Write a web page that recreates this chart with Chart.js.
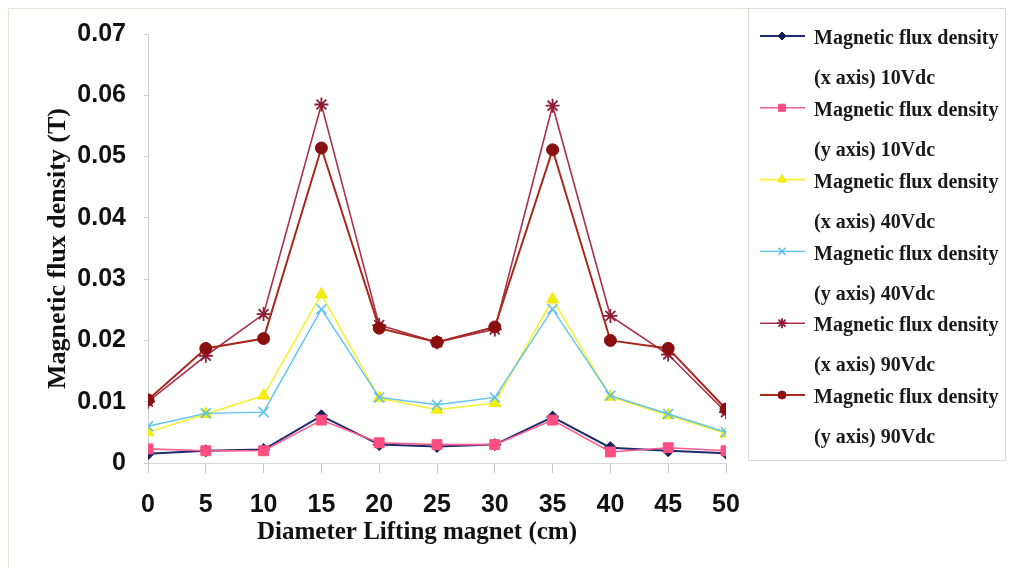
<!DOCTYPE html>
<html>
<head>
<meta charset="utf-8">
<script src="https://cdn.jsdelivr.net/npm/chart.js@4/dist/chart.umd.min.js"></script>
<style>
  html, body { margin: 0; padding: 0; background: #ffffff; }
  #wrap { width: 1009px; height: 574px; position: relative; }
</style>
</head>
<body>
<div id="wrap"><canvas id="c" width="1009" height="574"></canvas></div>
<script>
// ---- data ----
const diameters = [0, 5, 10, 15, 20, 25, 30, 35, 40, 45, 50];
const x10Vdc = [0.0015, 0.0020, 0.0022, 0.0077, 0.0030, 0.0027, 0.0030, 0.0075, 0.0025, 0.0020, 0.0016];
const y10Vdc = [0.0023, 0.0020, 0.0020, 0.0070, 0.0033, 0.0030, 0.0030, 0.0070, 0.0018, 0.0025, 0.0020];
const x40Vdc = [0.0050, 0.0080, 0.0110, 0.0275, 0.0106, 0.0087, 0.0098, 0.0267, 0.0108, 0.0078, 0.0048];
const y40Vdc = [0.0060, 0.0081, 0.0083, 0.0251, 0.0107, 0.0095, 0.0107, 0.0251, 0.0110, 0.0080, 0.0050];
const x90Vdc = [0.0100, 0.0175, 0.0243, 0.0585, 0.0225, 0.0197, 0.0218, 0.0583, 0.0240, 0.0177, 0.0083];
const y90Vdc = [0.0103, 0.0187, 0.0203, 0.0514, 0.0220, 0.0197, 0.0222, 0.0511, 0.0200, 0.0187, 0.0088];
const yTickValues = [0, 0.01, 0.02, 0.03, 0.04, 0.05, 0.06, 0.07];
const yTickLabels = ['0', '0.01', '0.02', '0.03', '0.04', '0.05', '0.06', '0.07'];
const legendLine1 = ['Magnetic flux density', 'Magnetic flux density', 'Magnetic flux density',
                     'Magnetic flux density', 'Magnetic flux density', 'Magnetic flux density'];
const legendLine2 = ['(x axis) 10Vdc', '(y axis) 10Vdc', '(x axis) 40Vdc',
                     '(y axis) 40Vdc', '(x axis) 90Vdc', '(y axis) 90Vdc'];
const xTitle = 'Diameter Lifting magnet (cm)';
const yTitle = 'Magnetic flux density (T)';

// ---- styles ----
const seriesValues = [x10Vdc, y10Vdc, x40Vdc, y40Vdc, x90Vdc, y90Vdc];
const styles = [
  { line: '#1c2a6e', fill: '#14205e', point: 'rectRot', r: 6, lw: 2, pbw: 1 },
  { line: '#ff5c8d', fill: '#ff4f82', point: 'rect', r: 7, lw: 1.6, pbw: 1 },
  { line: '#f6f032', fill: '#f2ec10', point: 'triangle', r: 7, lw: 1.6, pbw: 1 },
  { line: '#5ec2ee', fill: '#5ec2ee', point: 'crossRot', r: 7, lw: 1.4, pbw: 1.6 },
  { line: '#a8324f', fill: '#8e1c38', point: 'star', r: 7, lw: 1.6, pbw: 1.8 },
  { line: '#a8281e', fill: '#8a1010', point: 'circle', r: 6, lw: 2, pbw: 1 }
];

const datasets = seriesValues.map((vals, i) => ({
  label: legendLine1[i] + ' ' + legendLine2[i],
  data: diameters.map((d, k) => ({ x: d, y: vals[k] })),
  borderColor: styles[i].line,
  backgroundColor: styles[i].fill,
  pointBackgroundColor: styles[i].fill,
  pointBorderColor: styles[i].fill,
  pointStyle: styles[i].point,
  pointRadius: styles[i].r,
  pointBorderWidth: styles[i].pbw,
  borderWidth: styles[i].lw,
  tension: 0,
  fill: false,
  order: seriesValues.length - i
}));

const frameAndLegend = {
  id: 'frameAndLegend',
  beforeDraw(chart) {
    const ctx = chart.ctx;
    ctx.save();
    ctx.fillStyle = '#ffffff';
    ctx.fillRect(0, 0, chart.width, chart.height);
    ctx.strokeStyle = '#e6e2d6';
    ctx.lineWidth = 1;
    ctx.beginPath();
    ctx.moveTo(8.5, 568);
    ctx.lineTo(8.5, 8.5);
    ctx.lineTo(1006, 8.5);
    ctx.stroke();
    ctx.restore();
  },
  afterDraw(chart) {
    const ctx = chart.ctx;
    ctx.save();
    // x axis title (offset left of plot centre as in the reference)
    ctx.fillStyle = '#111';
    ctx.font = 'bold 25px "Liberation Serif", "Times New Roman", serif';
    ctx.textAlign = 'center';
    ctx.textBaseline = 'middle';
    ctx.fillText(xTitle, 417, 533);
    // legend box
    ctx.strokeStyle = '#dcdcdc';
    ctx.lineWidth = 1;
    ctx.strokeRect(748.5, 8.5, 257, 452);
    const step = 71.8;
    chart.data.datasets.forEach((ds, i) => {
      const yc = 39 + i * step;
      const ly = yc - 3;
      ctx.strokeStyle = ds.borderColor;
      ctx.lineWidth = ds.borderWidth;
      ctx.beginPath();
      ctx.moveTo(760, ly);
      ctx.lineTo(805, ly);
      ctx.stroke();
      ctx.fillStyle = ds.pointBackgroundColor;
      ctx.strokeStyle = ds.pointBorderColor;
      ctx.lineWidth = ds.pointBorderWidth;
      Chart.helpers.drawPoint(ctx, {
        pointStyle: ds.pointStyle, radius: Math.max(4, ds.pointRadius - 2),
        rotation: 0, borderWidth: ds.pointBorderWidth
      }, 782, ly);
      ctx.fillStyle = '#1a1a1a';
      ctx.font = 'bold 20px "Liberation Serif", "Times New Roman", serif';
      ctx.textAlign = 'left';
      ctx.textBaseline = 'middle';
      ctx.fillText(legendLine1[i], 814, yc);
      ctx.fillText(legendLine2[i], 814, yc + 40);
    });
    ctx.restore();
  }
};

new Chart(document.getElementById('c'), {
  type: 'line',
  data: { datasets },
  plugins: [frameAndLegend],
  options: {
    responsive: false,
    animation: false,
    events: [],
    layout: { padding: { left: 0, right: 283, top: 34, bottom: 0 } },
    plugins: {
      legend: { display: false },
      tooltip: { enabled: false },
      title: { display: false }
    },
    scales: {
      x: {
        type: 'linear',
        min: 0, max: 50,
        afterFit(s) { s.height = 111; },
        afterBuildTicks(s) { s.ticks = diameters.map(v => ({ value: v })); },
        ticks: {
          padding: 17,
          color: '#111',
          font: { family: '"Liberation Sans", Arial, sans-serif', size: 25, weight: 'bold' },
          callback: v => String(v)
        },
        grid: { display: true, drawOnChartArea: false, drawTicks: true, tickLength: 10, color: '#c8c8c8' },
        border: { display: true, color: '#d8d8d8' },
        title: { display: false }
      },
      y: {
        type: 'linear',
        min: 0, max: 0.07,
        afterFit(s) { s.width = 148; },
        afterBuildTicks(s) { s.ticks = yTickValues.map(v => ({ value: v })); },
        ticks: {
          padding: 18,
          color: '#111',
          font: { family: '"Liberation Sans", Arial, sans-serif', size: 25, weight: 'bold' },
          callback: (v, idx) => yTickLabels[idx]
        },
        grid: { display: true, drawOnChartArea: false, drawTicks: true, tickLength: 4, color: '#d0d0d0' },
        border: { display: true, color: '#cfcfcf' },
        title: {
          display: true, text: yTitle, color: '#111',
          padding: { top: 43, bottom: 0 },
          font: { family: '"Liberation Serif", "Times New Roman", serif', size: 26, weight: 'bold' }
        }
      }
    }
  }
});
</script>
</body>
</html>
